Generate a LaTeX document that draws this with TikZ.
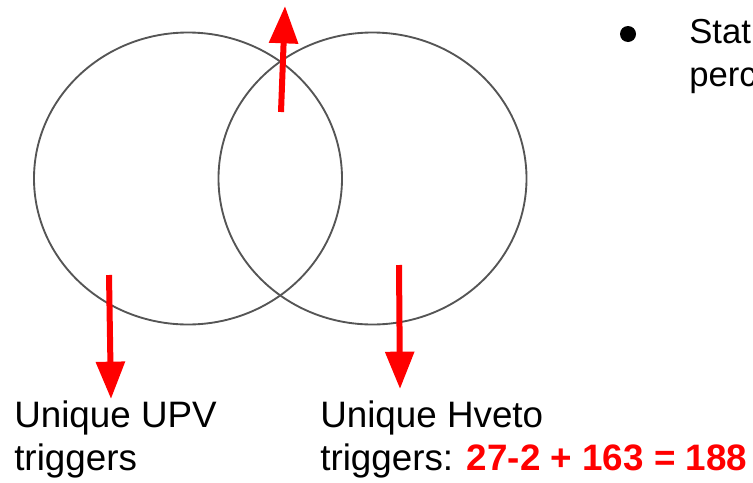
\documentclass[tikz,border=0pt]{standalone}
\usepackage{fontspec}
\setmainfont{Liberation Sans}
\usetikzlibrary{shapes.geometric,arrows.meta}
\definecolor{ringgray}{HTML}{555555}
\definecolor{pointred}{HTML}{FF0000}
\tikzset{
  vennset/.style={ellipse, draw=ringgray, line width=1.4pt, inner sep=0pt,
    minimum width=231pt, minimum height=219pt},
  redarrow/.style={draw=pointred, line width=4.5pt,
    -{Triangle[width=21pt,length=28pt]}},
  caption/.style={inner sep=0pt, anchor=base west,
    font=\fontsize{27.6}{32}\selectfont},
  bullettext/.style={inner sep=0pt, anchor=base west,
    font=\fontsize{26}{32}\selectfont}
}
\begin{document}
\begin{tikzpicture}[x=0.75pt, y=-0.75pt]
  \useasboundingbox (0,0) rectangle (753,482);
  \begin{scope}
    \clip (0,0) rectangle (753,482);
    % the two overlapping sets
    \node[vennset] (upv) at (188,178.5) {};
    \node[vennset] (hveto) at (372.5,178.5) {};

    % arrow ends
    \coordinate (upTail) at (281,112);
    \coordinate (upTip) at (285,6);
    \coordinate (leftTail) at (109,275);
    \coordinate (leftTip) at (111,399);
    \coordinate (rightTail) at (399,265);
    \coordinate (rightTip) at (400,389);

    \draw[redarrow] (upTail) -- (upTip);
    \draw[redarrow] (leftTail) -- (leftTip);
    \draw[redarrow] (rightTail) -- (rightTip);

    % captions, one node per line
    \node[caption] (upvLineA) at (14,427) {Unique UPV};
    \node[caption] (upvLineB) at (14,470) {triggers};
    \node[caption] (hvetoLineA) at (320,427) {Unique Hveto};
    \node[caption] (hvetoLineB) at (320,470)
      {triggers: \textcolor{pointred}{\textbf{27-2 + 163 = 188}}};

    % bullet point at the top right
    \node[circle, fill=black, inner sep=0pt, minimum size=12pt] (dot) at (628,34) {};
    \node[bullettext] (statLine) at (689,43) {Stat};
    \node[bullettext] (percLine) at (689,86) {perc};
  \end{scope}
\end{tikzpicture}
\end{document}
